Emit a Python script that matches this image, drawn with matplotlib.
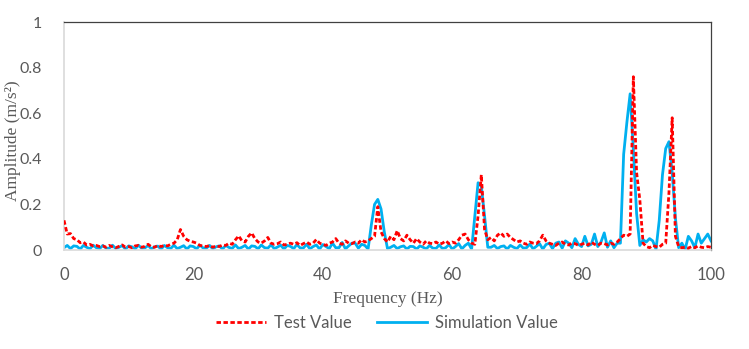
import numpy as np
import matplotlib
matplotlib.use("Agg")
import matplotlib.pyplot as plt

# Frequency grid (Hz), 0.5 Hz step
freq = np.arange(0, 100.01, 0.5)

test_value = [
    0.130, 0.070, 0.072, 0.050, 0.045, 0.032, 0.035, 0.022, 0.025, 0.018,   # 0-4.5
    0.020, 0.015, 0.018, 0.012, 0.020, 0.014, 0.010, 0.016, 0.022, 0.012,   # 5-9.5
    0.015, 0.010, 0.018, 0.020, 0.012, 0.016, 0.025, 0.014, 0.012, 0.020,   # 10-14.5
    0.015, 0.020, 0.018, 0.025, 0.030, 0.045, 0.090, 0.060, 0.045, 0.038,   # 15-19.5
    0.035, 0.030, 0.020, 0.018, 0.015, 0.020, 0.012, 0.018, 0.015, 0.022,   # 20-24.5
    0.020, 0.030, 0.025, 0.045, 0.062, 0.040, 0.035, 0.060, 0.075, 0.050,   # 25-29.5
    0.035, 0.030, 0.040, 0.055, 0.030, 0.025, 0.028, 0.035, 0.022, 0.025,   # 30-34.5
    0.030, 0.025, 0.032, 0.020, 0.028, 0.035, 0.025, 0.030, 0.046, 0.030,   # 35-39.5
    0.025, 0.020, 0.030, 0.035, 0.050, 0.030, 0.025, 0.040, 0.030, 0.028,   # 40-44.5
    0.035, 0.030, 0.045, 0.035, 0.040, 0.050, 0.060, 0.190, 0.080, 0.050,   # 45-49.5
    0.035, 0.060, 0.045, 0.085, 0.050, 0.040, 0.065, 0.045, 0.030, 0.050,   # 50-54.5
    0.035, 0.025, 0.040, 0.030, 0.028, 0.035, 0.025, 0.030, 0.040, 0.028,   # 55-59.5
    0.035, 0.030, 0.045, 0.065, 0.070, 0.045, 0.030, 0.025, 0.150, 0.330,   # 60-64.5
    0.090, 0.045, 0.055, 0.040, 0.065, 0.075, 0.060, 0.070, 0.055, 0.045,   # 65-69.5
    0.035, 0.040, 0.030, 0.025, 0.035, 0.030, 0.028, 0.040, 0.065, 0.040,   # 70-74.5
    0.030, 0.025, 0.020, 0.030, 0.035, 0.025, 0.022, 0.030, 0.028, 0.020,   # 75-79.5
    0.025, 0.030, 0.022, 0.035, 0.025, 0.020, 0.030, 0.028, 0.022, 0.030,   # 80-84.5
    0.025, 0.035, 0.050, 0.065, 0.060, 0.070, 0.760, 0.340, 0.220, 0.030,   # 85-89.5
    0.015, 0.010, 0.020, 0.015, 0.012, 0.025, 0.030, 0.250, 0.580, 0.060,   # 90-94.5
    0.015, 0.010, 0.012, 0.008, 0.015, 0.010, 0.018, 0.012, 0.010, 0.015,   # 95-99.5
    0.012,                                                                  # 100
]

simulation_value = [
    0.010, 0.020, 0.006, 0.018, 0.016, 0.004, 0.020, 0.012, 0.005, 0.021,   # 0-4.5
    0.010, 0.006, 0.020, 0.008, 0.008, 0.021, 0.006, 0.012, 0.019, 0.004,   # 5-9.5
    0.018, 0.014, 0.005, 0.021, 0.008, 0.009, 0.020, 0.005, 0.014, 0.017,   # 10-14.5
    0.004, 0.020, 0.010, 0.007, 0.021, 0.006, 0.012, 0.019, 0.004, 0.018,   # 15-19.5
    0.015, 0.005, 0.021, 0.009, 0.008, 0.020, 0.005, 0.014, 0.018, 0.004,   # 20-24.5
    0.020, 0.011, 0.007, 0.022, 0.006, 0.012, 0.020, 0.004, 0.018, 0.016,   # 25-29.5
    0.005, 0.022, 0.010, 0.008, 0.023, 0.006, 0.013, 0.021, 0.004, 0.020,   # 30-34.5
    0.016, 0.006, 0.024, 0.009, 0.009, 0.025, 0.005, 0.015, 0.022, 0.004,   # 35-39.5
    0.024, 0.015, 0.006, 0.030, 0.010, 0.010, 0.033, 0.005, 0.018, 0.030,   # 40-44.5
    0.030, 0.008, 0.025, 0.020, 0.004, 0.110, 0.200, 0.222, 0.180, 0.080,   # 45-49.5
    0.006, 0.012, 0.020, 0.006, 0.014, 0.018, 0.004, 0.016, 0.015, 0.004,   # 50-54.5
    0.018, 0.012, 0.005, 0.020, 0.008, 0.007, 0.022, 0.006, 0.010, 0.024,   # 55-59.5
    0.004, 0.015, 0.028, 0.005, 0.020, 0.030, 0.004, 0.150, 0.295, 0.280,   # 60-64.5
    0.150, 0.012, 0.012, 0.020, 0.006, 0.015, 0.018, 0.004, 0.020, 0.012,   # 65-69.5
    0.006, 0.022, 0.008, 0.010, 0.026, 0.005, 0.016, 0.028, 0.004, 0.024,   # 70-74.5
    0.030, 0.006, 0.030, 0.035, 0.008, 0.040, 0.030, 0.010, 0.050, 0.025,   # 75-79.5
    0.015, 0.060, 0.018, 0.025, 0.070, 0.015, 0.035, 0.075, 0.012, 0.040,   # 80-84.5
    0.010, 0.030, 0.030, 0.420, 0.560, 0.685, 0.440, 0.160, 0.020, 0.045,   # 85-89.5
    0.035, 0.050, 0.040, 0.003, 0.130, 0.330, 0.445, 0.475, 0.340, 0.140,   # 90-94.5
    0.010, 0.030, 0.003, 0.060, 0.040, 0.010, 0.070, 0.030, 0.050, 0.070,   # 95-99.5
    0.040,                                                                  # 100
]

x_ticks = [0, 20, 40, 60, 80, 100]
y_ticks = [0, 0.2, 0.4, 0.6, 0.8, 1]
y_tick_labels = ["0", "0.2", "0.4", "0.6", "0.8", "1"]

TXT = "#595959"
SANS = ["Lato", "DejaVu Sans"]
SERIF = ["Liberation Serif", "DejaVu Serif"]

fig = plt.figure(figsize=(7.49, 3.49), dpi=100)
ax = fig.add_axes([64 / 749, 1 - 250 / 349, (711 - 64) / 749, (250 - 22) / 349])

ax.plot(freq, test_value, color="#ff0000", lw=2.0, dashes=(1.6, 0.9),
        label="Test Value", zorder=3)
ax.plot(freq, simulation_value, color="#00b0f0", lw=2.0,
        label="Simulation Value", zorder=2)

ax.set_xlim(0, 100)
ax.set_ylim(0, 1)
ax.set_xticks(x_ticks)
ax.set_xticklabels([str(t) for t in x_ticks], fontfamily=SANS, fontsize=12, color=TXT)
ax.set_yticks(y_ticks)
ax.set_yticklabels(y_tick_labels, fontfamily=SANS, fontsize=11.5, color=TXT)
ax.tick_params(axis="both", length=0)
ax.tick_params(axis="x", pad=12)
ax.tick_params(axis="y", pad=16)

for side in ("left", "bottom"):
    ax.spines[side].set_color("#d9d9d9")
    ax.spines[side].set_linewidth(1.2)
for side in ("top", "right"):
    ax.spines[side].set_color("#404040")
    ax.spines[side].set_linewidth(0.9)

ax.set_xlabel("Frequency (Hz)", fontfamily=SERIF, fontsize=12.5, color=TXT, labelpad=6)
ax.set_ylabel("Amplitude (m/s²)", fontfamily=SERIF, fontsize=12.5, color=TXT)
ax.yaxis.set_label_coords(-0.066, 0.48)

leg = fig.legend(loc="center", bbox_to_anchor=(387 / 749, 1 - 323 / 349), ncol=2,
                 frameon=False, prop={"family": SANS, "size": 12},
                 handlelength=3.0, columnspacing=1.5, handletextpad=0.5)
for t in leg.get_texts():
    t.set_color(TXT)

fig.savefig("out.png", dpi=100)
